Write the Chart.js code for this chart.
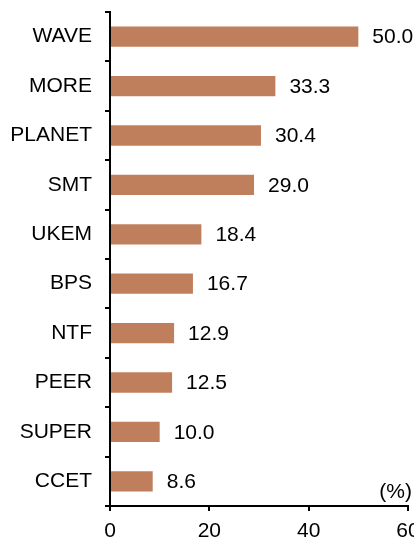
<!DOCTYPE html>
<html>
<head>
<meta charset="utf-8">
<script src="https://cdn.jsdelivr.net/npm/chart.js@4/dist/chart.umd.min.js"></script>
<style>
    html, body { margin: 0; padding: 0; background: #ffffff; }
    #wrap { width: 414px; height: 537px; overflow: hidden; position: relative; }
    canvas { display: block; }
</style>
</head>
<body>
<div id="wrap"><canvas id="barChart" width="440" height="560"></canvas></div>
<script>
// Chart data
const categories = ['WAVE', 'MORE', 'PLANET', 'SMT', 'UKEM', 'BPS', 'NTF', 'PEER', 'SUPER', 'CCET'];
const shares = [50.0, 33.3, 30.4, 29.0, 18.4, 16.7, 12.9, 12.5, 10.0, 8.6];
const xTicks = [0, 20, 40, 60];
const unitLabel = '(%)';

const FONT = '"Liberation Sans", Arial, sans-serif';

// Value labels at the end of each bar plus the unit label
const valueLabels = {
    id: 'valueLabels',
    afterDatasetsDraw(chart) {
        const ctx = chart.ctx;
        const meta = chart.getDatasetMeta(0);
        ctx.save();
        ctx.font = '21px ' + FONT;
        ctx.fillStyle = '#000000';
        ctx.textBaseline = 'middle';
        ctx.textAlign = 'left';
        meta.data.forEach((bar, i) => {
            ctx.fillText(shares[i].toFixed(1), bar.x + 14, bar.y + 1);
        });
        ctx.textAlign = 'right';
        ctx.textBaseline = 'alphabetic';
        ctx.fillText(unitLabel, chart.chartArea.right + 4, chart.chartArea.bottom - 8);
        ctx.restore();
    }
};

document.addEventListener('DOMContentLoaded', function() {
    const ctx = document.getElementById('barChart').getContext('2d');

    new Chart(ctx, {
        type: 'bar',
        data: {
            labels: categories,
            datasets: [{
                data: shares,
                backgroundColor: '#c07f5c',
                borderWidth: 0,
                barPercentage: 0.41,
                categoryPercentage: 1.0
            }]
        },
        options: {
            indexAxis: 'y',
            responsive: false,
            animation: false,
            layout: {
                padding: { left: 0, top: 12, right: 32, bottom: 0 }
            },
            plugins: {
                legend: { display: false },
                tooltip: { enabled: false }
            },
            scales: {
                x: {
                    min: 0,
                    max: 60,
                    afterBuildTicks: function(scale) {
                        scale.ticks = xTicks.map(v => ({ value: v }));
                    },
                    afterFit: function(scale) {
                        scale.height = 54;
                    },
                    grid: {
                        drawOnChartArea: false,
                        drawTicks: true,
                        tickLength: 5,
                        tickColor: '#000000',
                        lineWidth: 2
                    },
                    border: { display: true, color: '#000000', width: 2 },
                    ticks: {
                        color: '#000000',
                        padding: 8,
                        font: { family: FONT, size: 21 }
                    }
                },
                y: {
                    afterFit: function(scale) {
                        scale.width = 110;
                        // keep the first and last category flush with the plot area
                        scale.paddingTop = 0;
                        scale.paddingBottom = 0;
                    },
                    grid: {
                        offset: true,
                        drawOnChartArea: false,
                        drawTicks: true,
                        tickLength: 5,
                        tickColor: '#000000',
                        lineWidth: 2
                    },
                    border: { display: true, color: '#000000', width: 2 },
                    ticks: {
                        color: '#000000',
                        padding: 13,
                        font: { family: FONT, size: 21 }
                    }
                }
            }
        },
        plugins: [valueLabels]
    });
});
</script>
</body>
</html>
